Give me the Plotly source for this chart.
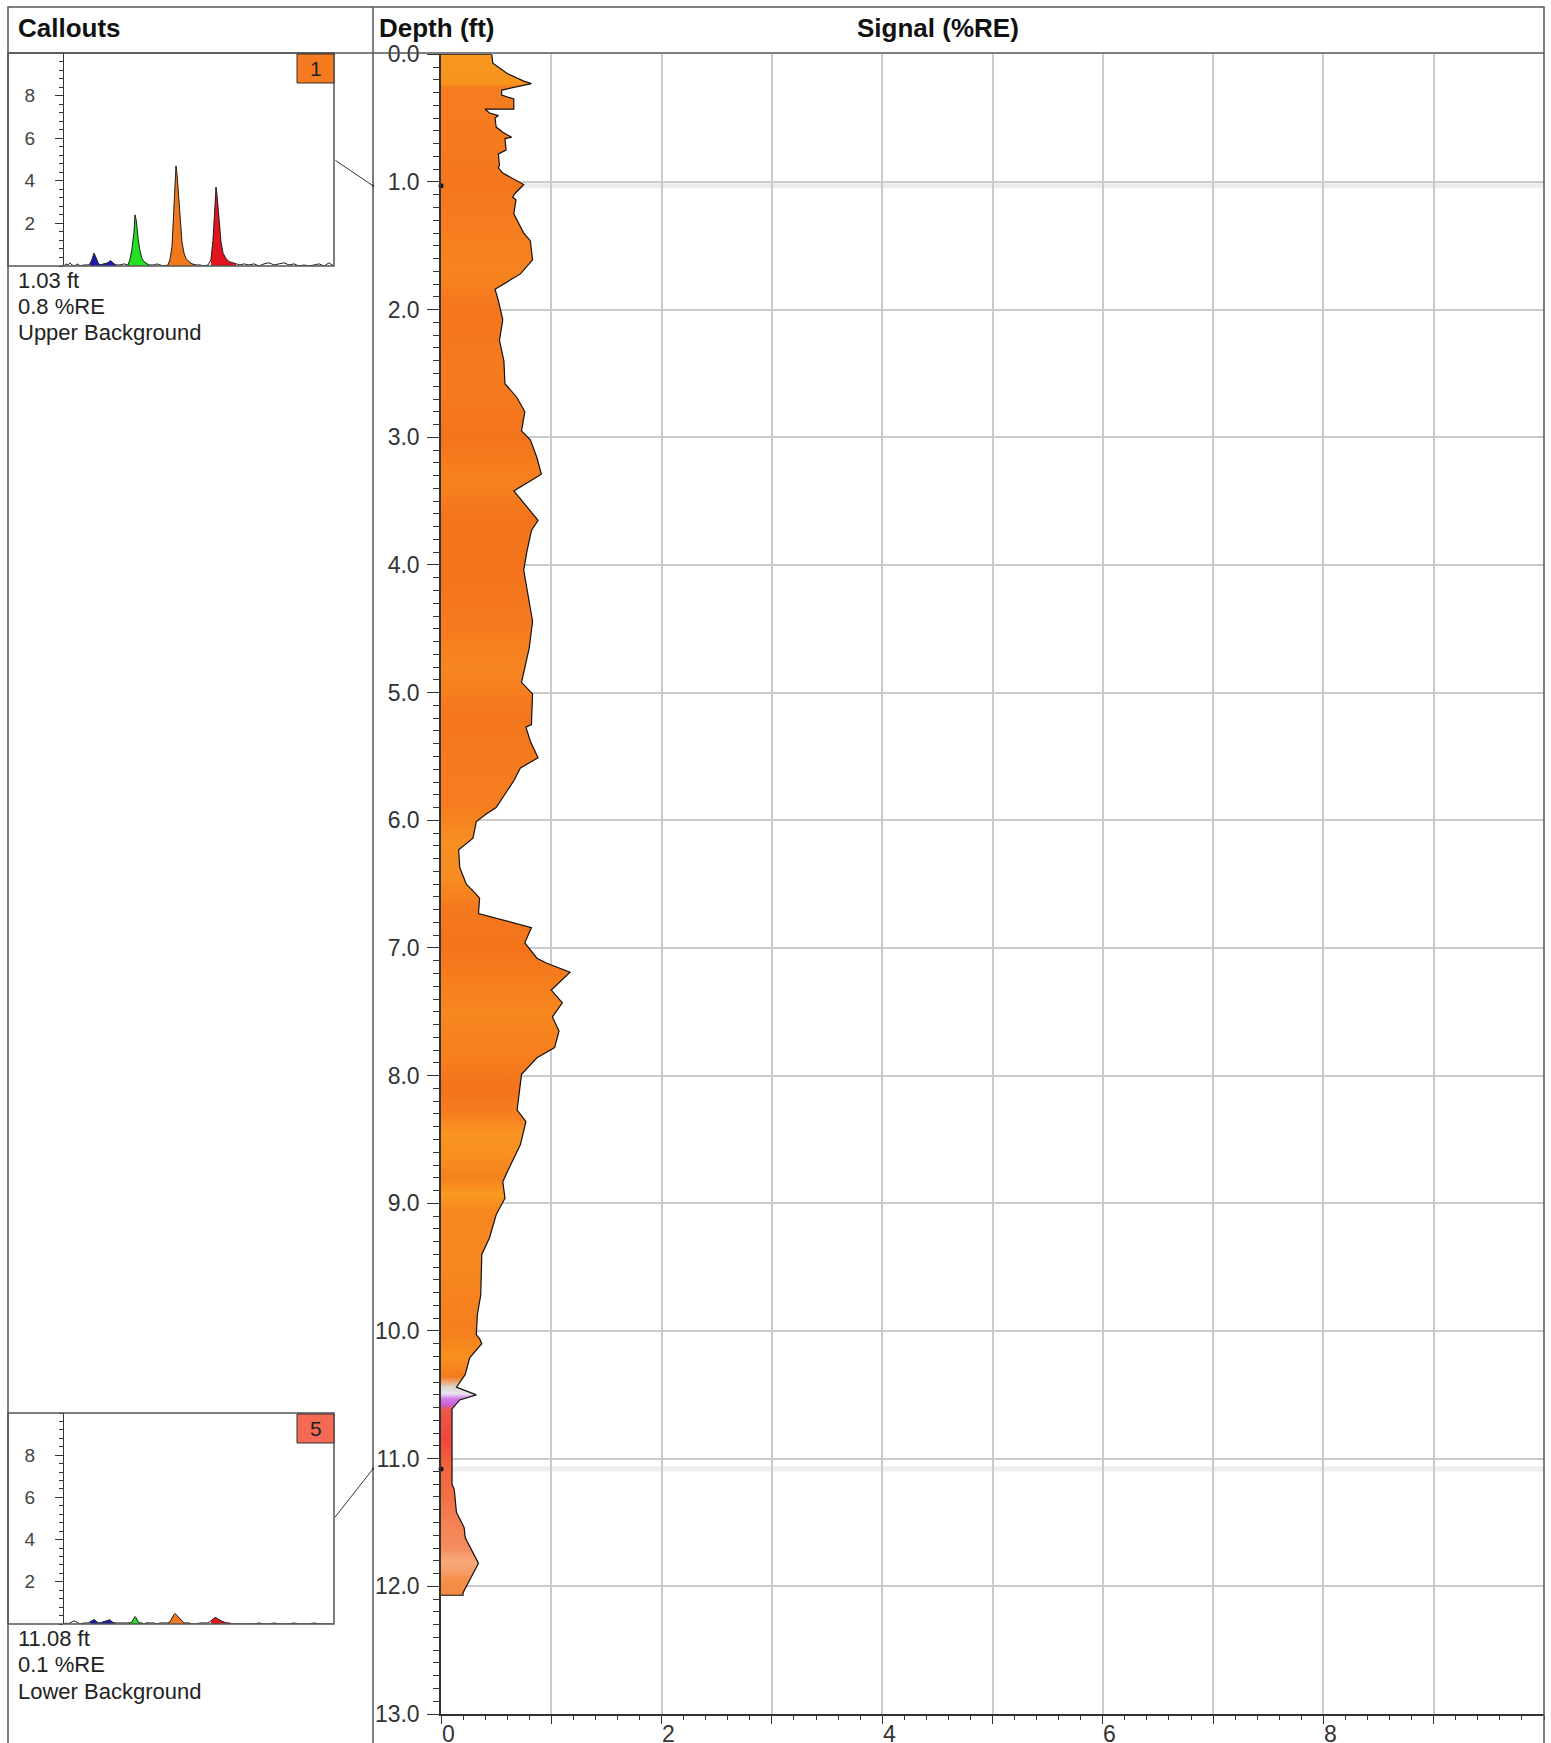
import plotly.graph_objects as go

W, H = 1551, 1743

# ---------------- main depth profile ----------------
depth_ft = [0.00, 0.07, 0.15, 0.21, 0.23, 0.28, 0.32, 0.35, 0.43, 0.43, 0.46, 0.48, 0.50, 0.57,
            0.61, 0.65, 0.66, 0.75, 0.78, 0.87, 0.89, 0.93, 0.99, 1.02, 1.09, 1.12, 1.14, 1.19,
            1.25, 1.40, 1.46, 1.61, 1.72, 1.84, 1.93, 2.08, 2.24, 2.40, 2.58, 2.69, 2.80, 2.95,
            3.02, 3.16, 3.29, 3.42, 3.55, 3.65, 3.73, 3.89, 4.04, 4.23, 4.44, 4.65, 4.92, 5.01,
            5.25, 5.27, 5.38, 5.51, 5.59, 5.69, 5.82, 5.90, 5.95, 6.01, 6.14, 6.19, 6.23, 6.37,
            6.50, 6.58, 6.61, 6.73, 6.84, 6.96, 7.08, 7.12, 7.19, 7.33, 7.43, 7.54, 7.65, 7.78,
            7.86, 7.99, 8.27, 8.36, 8.54, 8.72, 8.83, 8.96, 9.09, 9.27, 9.40, 9.72, 9.87, 10.03,
            10.06, 10.10, 10.21, 10.34, 10.44, 10.50, 10.54, 10.61, 11.20, 11.24, 11.42, 11.54,
            11.62, 11.82, 12.05, 12.07]
signal_re = [0.46, 0.47, 0.60, 0.75, 0.82, 0.55, 0.55, 0.66, 0.66, 0.40, 0.44, 0.52, 0.49, 0.50,
             0.56, 0.64, 0.58, 0.59, 0.52, 0.53, 0.52, 0.56, 0.69, 0.75, 0.67, 0.65, 0.68, 0.67,
             0.66, 0.75, 0.81, 0.83, 0.72, 0.49, 0.52, 0.56, 0.53, 0.57, 0.58, 0.69, 0.76, 0.73,
             0.81, 0.87, 0.91, 0.66, 0.78, 0.88, 0.82, 0.78, 0.75, 0.79, 0.83, 0.80, 0.73, 0.83,
             0.82, 0.77, 0.81, 0.88, 0.72, 0.66, 0.56, 0.50, 0.41, 0.32, 0.29, 0.22, 0.16, 0.17,
             0.23, 0.32, 0.35, 0.34, 0.82, 0.76, 0.87, 0.96, 1.17, 1.00, 1.10, 1.01, 1.07, 1.03,
             0.87, 0.73, 0.69, 0.77, 0.72, 0.62, 0.56, 0.58, 0.50, 0.44, 0.37, 0.36, 0.33, 0.32,
             0.35, 0.37, 0.26, 0.22, 0.14, 0.32, 0.17, 0.10, 0.10, 0.12, 0.14, 0.21,
             0.22, 0.34, 0.20, 0.20]

# colour banding of the profile by depth
band_depth = [0.0, 0.23, 0.26, 0.6, 1.0, 1.4, 1.7, 2.0, 2.6, 3.0, 3.35, 3.6, 4.0, 4.5, 4.8,
              5.2, 5.6, 5.9, 6.15, 6.45, 6.7, 7.0, 7.5, 7.9, 8.1, 8.3, 8.45, 8.6, 8.8, 8.93,
              9.05, 9.5, 10.0, 10.2, 10.27, 10.36, 10.44, 10.49, 10.53, 10.57, 10.62, 10.85,
              11.05, 11.3, 11.5, 11.7, 11.8, 11.87, 11.95, 12.07]
band_color = ['#F8961F', '#F8941E', '#F57D1F', '#F67B1E', '#F4761C', '#F67E1F', '#F78420',
              '#F4761C', '#F67B1E', '#F4741B', '#F6821F', '#F4761C', '#F3731B', '#F67B1E',
              '#F78622', '#F4761C', '#F67B1E', '#F57D1F', '#F78E22', '#F68C21', '#F4781D',
              '#F4741B', '#F78720', '#F67D1E', '#F4731B', '#F67E1F', '#F99422', '#F8901F',
              '#F6821F', '#F99A22', '#F7881F', '#F7871F', '#F57E1E', '#F8901E', '#F7881F',
              '#F57A1D', '#DCD6CE', '#E8E4EE', '#D67DE6', '#C864E0', '#EE5846', '#F0463A',
              '#F2623E', '#F37046', '#F48254', '#F58C5E', '#F8A878', '#F7A070', '#F58E48',
              '#F58A40']

# ---------------- callout spectra ----------------
spec_channel = [0, 2, 4, 6, 8, 10, 12, 14, 16, 20, 24, 26, 28, 30, 32, 34, 36, 40, 44, 46, 48,
                50, 52, 56, 60, 64, 66, 68, 70, 71, 72, 73, 74, 76, 78, 80, 82, 85, 90, 93, 96,
                100, 104, 106, 108, 110, 111, 112, 113, 114, 116, 118, 120, 122, 125, 128, 132,
                136, 140, 144, 147, 149, 151, 152, 153, 155, 157, 159, 162, 165, 168, 172, 176,
                180, 185, 190, 195, 200, 205, 210, 215, 220, 225, 230, 235, 240, 245, 250, 255,
                260, 265, 268, 270]
upper_counts = [0, 0.1, 0.05, 0.15, 0.05, 0.0, 0.05, 0.1, 0.0, 0.05, 0.05, 0.1, 0.3, 0.6, 0.4,
                0.15, 0.05, 0.1, 0.15, 0.25, 0.2, 0.1, 0.05, 0.05, 0.1, 0.05, 0.3, 0.8, 1.6, 2.4,
                2.2, 1.8, 1.3, 0.7, 0.35, 0.2, 0.15, 0.05, 0.05, 0.1, 0.05, 0.0, 0.05, 0.3, 0.9,
                2.8, 4.2, 4.7, 4.3, 3.6, 2.0, 1.1, 0.6, 0.35, 0.2, 0.1, 0.05, 0.05, 0.0, 0.05,
                0.3, 1.2, 2.8, 3.7, 3.3, 2.0, 1.1, 0.6, 0.35, 0.2, 0.15, 0.1, 0.05, 0.1, 0.05,
                0.1, 0.0, 0.1, 0.15, 0.05, 0.1, 0.15, 0.05, 0.1, 0.0, 0.05, 0.0, 0.05, 0.1, 0.0,
                0.15, 0.05, 0]
lower_counts = [0, 0.05, 0.0, 0.05, 0.1, 0.15, 0.1, 0.05, 0.0, 0.05, 0.05, 0.1, 0.15, 0.2, 0.15,
                0.05, 0.05, 0.1, 0.15, 0.2, 0.1, 0.05, 0.05, 0.05, 0.05, 0.05, 0.05, 0.1, 0.25,
                0.35, 0.3, 0.2, 0.1, 0.05, 0.05, 0.0, 0.05, 0.05, 0.05, 0.0, 0.05, 0.05, 0.05,
                0.1, 0.3, 0.45, 0.5, 0.45, 0.4, 0.35, 0.2, 0.1, 0.05, 0.05, 0.05, 0.0, 0.0, 0.05,
                0.05, 0.05, 0.15, 0.25, 0.3, 0.3, 0.25, 0.2, 0.15, 0.1, 0.05, 0.05, 0.0, 0.0, 0.0,
                0.0, 0.0, 0.0, 0.05, 0.0, 0.0, 0.05, 0.0, 0.0, 0.0, 0.05, 0.0, 0.0, 0.0, 0.05,
                0.0, 0.0, 0.0, 0.0, 0]

window_lo = [25, 64, 104, 145]
window_hi = [55, 86, 132, 172]
window_color = ['#1C1CB4', '#22E022', '#F2781E', '#E3141E']

callout_id = ['1', '5']
callout_depth = [1.03, 11.08]
callout_signal = [0.8, 0.1]
callout_zone = ['Upper Background', 'Lower Background']
callout_color = ['#F47B20', '#F46A55']

signal_gridvals = [0, 1, 2, 3, 4, 5, 6, 7, 8, 9]
signal_labels = [0, 2, 4, 6, 8]
inset_ticks = [2, 4, 6, 8]

assert len(depth_ft) == len(signal_re)
assert len(band_depth) == len(band_color)
assert len(spec_channel) == len(upper_counts) == len(lower_counts)

FONT = 'Arial, "Liberation Sans", sans-serif'
FRAME = '#555555'


def px(x):
    return x / W


def py(y):
    return 1 - y / H


# layout geometry (pixels)
PLOT_L, PLOT_R, PLOT_T, PLOT_B = 441, 1544, 54.3, 1714
DIVIDER = 373
HEADER = 53
INSETS = [(53, 266), (1413, 1624)]
INSET_L, INSET_AX, INSET_R = 8, 64, 334

fig = go.Figure()

# ---- main profile with depth colour gradient ----
dmax = depth_ft[-1]
colorscale = [[d / dmax, c] for d, c in zip(band_depth, band_color)]
fig.add_trace(go.Scatter(
    x=[0] + signal_re + [0], y=[depth_ft[0]] + depth_ft + [depth_ft[-1]],
    mode='lines', fill='toself',
    fillgradient=dict(type='vertical', colorscale=colorscale, start=0, stop=dmax),
    line=dict(color='#111111', width=1.2), xaxis='x', yaxis='y',
    hoverinfo='skip', showlegend=False))

fig.add_trace(go.Scatter(
    x=[0] * len(callout_depth), y=callout_depth, mode='markers',
    marker=dict(color='#111111', size=5), cliponaxis=False,
    xaxis='x', yaxis='y', showlegend=False, hoverinfo='skip'))

# ---- inset spectra ----
for i, counts in enumerate([upper_counts, lower_counts]):
    xa = 'x%d' % (3 + i)
    ya = 'y%d' % (4 + i)
    for lo, hi, col in zip(window_lo, window_hi, window_color):
        xs = [c for c in spec_channel if lo <= c <= hi]
        ys = [v for c, v in zip(spec_channel, counts) if lo <= c <= hi]
        fig.add_trace(go.Scatter(x=xs, y=ys, mode='lines', fill='tozeroy', fillcolor=col,
                                 line=dict(color=col, width=0.5), xaxis=xa, yaxis=ya,
                                 showlegend=False, hoverinfo='skip'))
    fig.add_trace(go.Scatter(x=spec_channel, y=counts, mode='lines',
                             line=dict(color='#222222', width=1), xaxis=xa, yaxis=ya,
                             showlegend=False, hoverinfo='skip'))

main_dom_x = [px(PLOT_L), px(PLOT_R)]
main_dom_y = [py(PLOT_B), py(PLOT_T)]
tickfont = dict(family=FONT, size=23, color='#333333')

layout = dict(
    width=W, height=H, margin=dict(l=0, r=0, t=0, b=0, autoexpand=False),
    template='none',
    paper_bgcolor='white', plot_bgcolor='white', showlegend=False,
    font=dict(family=FONT, color='#222222'),
    xaxis=dict(domain=main_dom_x, anchor='y', range=[0, 10], tickvals=signal_gridvals,
               ticks='outside', ticklen=8, tickcolor='#333', tickwidth=1.2,
               showticklabels=False, showline=True, linecolor='#333', linewidth=1.5,
               showgrid=True, gridcolor='#CACACA', gridwidth=1.5, zeroline=False,
               automargin=False,
               minor=dict(dtick=0.2, ticks='outside', ticklen=4, tickcolor='#333', showgrid=False)),
    xaxis2=dict(domain=main_dom_x, anchor='y', overlaying='x', side='top', range=[0, 10],
                dtick=1, ticks='inside', ticklen=7, tickcolor='#333', showticklabels=False,
                showline=True, linecolor='#333', linewidth=1.5, showgrid=False, zeroline=False,
                automargin=False,
                minor=dict(dtick=0.2, ticks='inside', ticklen=5, tickcolor='#333', showgrid=False)),
    yaxis=dict(domain=main_dom_y, anchor='x', range=[13, 0], dtick=1, tickformat='.1f',
               ticks='outside', ticklen=12, tickcolor='#333', tickwidth=1.2,
               showline=True, linecolor='#333', linewidth=1.5, showgrid=True,
               gridcolor='#CACACA', gridwidth=1.5, zeroline=False, tickfont=tickfont,
               ticklabelstandoff=3, automargin=False,
               minor=dict(dtick=0.1, ticks='outside', ticklen=6, tickcolor='#333', showgrid=False)),
    yaxis2=dict(domain=main_dom_y, anchor='free', overlaying='y', position=px(DIVIDER),
                side='right', range=[13, 0], dtick=0.1, ticks='outside', ticklen=5,
                tickcolor='#333', showticklabels=False, showline=False, showgrid=False,
                zeroline=False, automargin=False),
    yaxis3=dict(domain=main_dom_y, anchor='x', overlaying='y', side='right', range=[13, 0],
                dtick=0.1, ticks='inside', ticklen=5, tickcolor='#333', showticklabels=False,
                showline=True, linecolor='#333', linewidth=1.5, showgrid=False, zeroline=False,
                automargin=False),
)

for i, (top, bot) in enumerate(INSETS):
    layout['xaxis%d' % (3 + i)] = dict(domain=[px(INSET_AX), px(INSET_R)], anchor='y%d' % (4 + i),
                                       range=[0, 270], visible=False, automargin=False)
    layout['yaxis%d' % (4 + i)] = dict(
        domain=[py(bot), py(top)], anchor='x%d' % (3 + i), range=[0, 10], tickvals=inset_ticks,
        ticks='outside', ticklen=8, tickcolor='#333', showline=True, linecolor='#333',
        linewidth=1.2, showgrid=False, zeroline=False, ticklabelstandoff=16, automargin=False,
        tickfont=dict(family=FONT, size=19, color='#444444'),
        minor=dict(dtick=0.4, ticks='outside', ticklen=4, tickcolor='#333'))

fig.update_layout(**layout)

shapes = []
# outer frame, header line and divider
shapes.append(dict(type='rect', xref='paper', yref='paper', x0=px(8), x1=px(1544), y0=py(7),
                   y1=py(1800), line=dict(color=FRAME, width=1.5)))
shapes.append(dict(type='line', xref='paper', yref='paper', x0=px(8), x1=px(1544), y0=py(HEADER),
                   y1=py(HEADER), line=dict(color=FRAME, width=1.5)))
shapes.append(dict(type='line', xref='paper', yref='paper', x0=px(DIVIDER), x1=px(DIVIDER),
                   y0=py(7), y1=py(1800), line=dict(color=FRAME, width=1.5)))
# highlight of the callout depths
for d in callout_depth:
    shapes.append(dict(type='line', xref='paper', yref='y', x0=px(PLOT_L), x1=px(PLOT_R), y0=d,
                       y1=d, layer='below', line=dict(color='#EDEDED', width=5)))
# inset frames and label boxes
for (top, bot), col in zip(INSETS, callout_color):
    shapes.append(dict(type='rect', xref='paper', yref='paper', x0=px(INSET_L), x1=px(INSET_R),
                       y0=py(bot), y1=py(top), line=dict(color=FRAME, width=1.5)))
    shapes.append(dict(type='rect', xref='paper', yref='paper', x0=px(297), x1=px(INSET_R),
                       y0=py(top + 30), y1=py(top + 1), fillcolor=col,
                       line=dict(color='#333', width=1)))
fig.update_layout(shapes=shapes)

ann = []
# signal axis tick labels (placed on the data scale, partly cut by the page edge as in the source)
for v in signal_labels:
    ann.append(dict(text=str(v), x=v, xref='x', y=py(1719), yref='paper', xanchor='center',
                    yanchor='top', xshift=7, showarrow=False, font=tickfont))

hdr_font = dict(family=FONT, size=26, color='#111111')
ann.append(dict(text='<b>Callouts</b>', x=px(16), y=py(28), xref='paper', yref='paper',
                xanchor='left', yanchor='middle', showarrow=False, font=hdr_font))
ann.append(dict(text='<b>Depth (ft)</b>', x=px(377), y=py(28), xref='paper', yref='paper',
                xanchor='left', yanchor='middle', showarrow=False, font=hdr_font))
ann.append(dict(text='<b>Signal (%RE)</b>', x=px(938), y=py(28), xref='paper', yref='paper',
                xanchor='center', yanchor='middle', showarrow=False, font=hdr_font))
txt_font = dict(family=FONT, size=22, color='#222222')
for (top, bot), cid, d, s, z in zip(INSETS, callout_id, callout_depth, callout_signal, callout_zone):
    ann.append(dict(text=cid, x=px(315.5), y=py(top + 15.5), xref='paper', yref='paper',
                    xanchor='center', yanchor='middle', showarrow=False,
                    font=dict(family=FONT, size=21, color='#222222')))
    lines = ['%.2f ft' % d, '%.1f %%RE' % s, z]
    for k, t in enumerate(lines):
        ann.append(dict(text=t, x=px(16), y=py(bot + 14 + 26.5 * k), xref='paper', yref='paper',
                        xanchor='left', yanchor='middle', showarrow=False, font=txt_font))
    mid = (top + bot) / 2
    depth_px = PLOT_T + d * (PLOT_B - PLOT_T) / 13
    ann.append(dict(text='', x=px(DIVIDER), y=d, xref='paper', yref='y', showarrow=True,
                    ax=INSET_R - DIVIDER, ay=mid - depth_px, axref='pixel', ayref='pixel',
                    arrowhead=6, arrowsize=0.6, arrowwidth=1, arrowcolor='#333', standoff=0))
fig.update_layout(annotations=ann)

fig.write_html('out.html', config={'displayModeBar': False},
               post_script="document.body.style.margin='0px';document.body.style.overflow='hidden';")
